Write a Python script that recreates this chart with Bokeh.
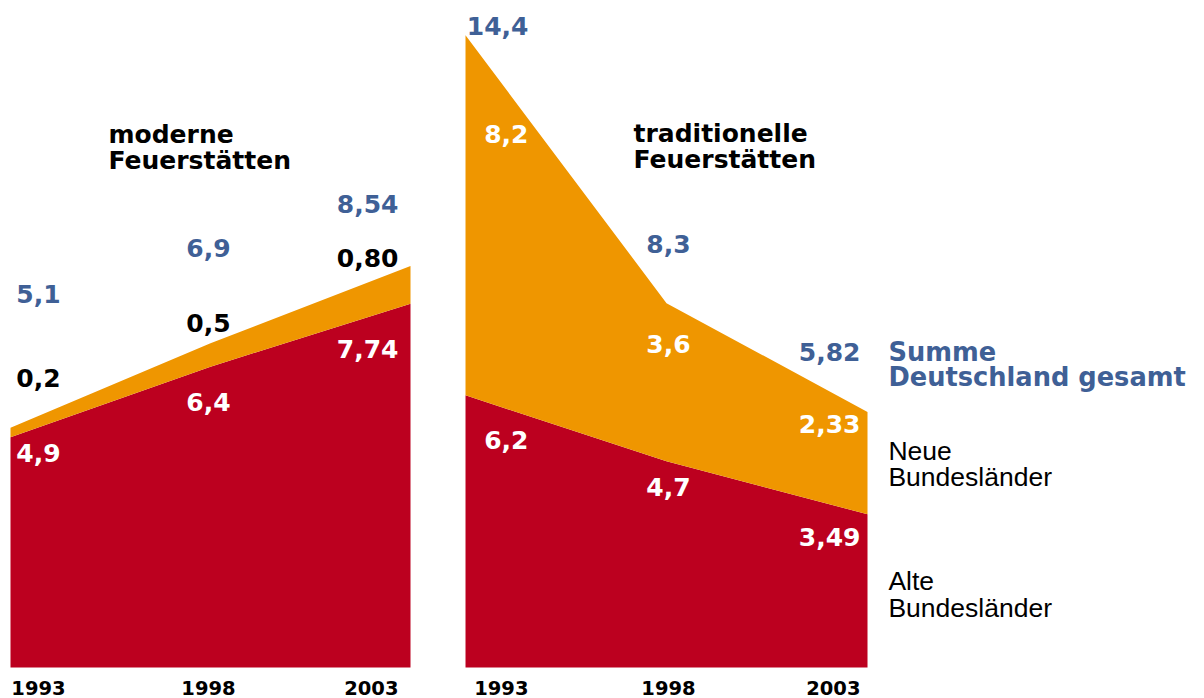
from bokeh.plotting import figure
from bokeh.layouts import row
from bokeh.models import Range1d, ColumnDataSource
from bokeh.core.properties import value
from bokeh.embed import file_html
from bokeh.resources import INLINE

# ---------------- data ----------------
years = [1993, 1998, 2003]
year_labels = ["1993", "1998", "2003"]

modern_alte = [4.9, 6.4, 7.74]      # Alte Bundesländer
modern_neue = [0.2, 0.5, 0.80]      # Neue Bundesländer
modern_total = [5.1, 6.9, 8.54]     # Summe Deutschland gesamt
modern_alte_lbl = ["4,9", "6,4", "7,74"]
modern_neue_lbl = ["0,2", "0,5", "0,80"]
modern_total_lbl = ["5,1", "6,9", "8,54"]

trad_alte = [6.2, 4.7, 3.49]
trad_neue = [8.2, 3.6, 2.33]
trad_total = [14.4, 8.3, 5.82]
trad_alte_lbl = ["6,2", "4,7", "3,49"]
trad_neue_lbl = ["8,2", "3,6", "2,33"]
trad_total_lbl = ["14,4", "8,3", "5,82"]

title_modern = ["moderne", "Feuerstätten"]
title_trad = ["traditionelle", "Feuerstätten"]
legend_sum = ["Summe", "Deutschland gesamt"]
legend_neue = ["Neue", "Bundesländer"]
legend_alte = ["Alte", "Bundesländer"]

# ---------------- style ----------------
RED = "#bc001f"
ORANGE = "#ef9600"
BLUE = "#3f6096"
BOLD = value("DejaVu Sans")
REG = value("Liberation Sans")
H = 698


def make_panel(width, xr, yr, alte, total, lbl_alte, lbl_neue, lbl_total,
               aligns, xoffs, off_alte, off_neue, off_total, neue_color):
    p = figure(width=width, height=H, x_range=Range1d(*xr), y_range=Range1d(*yr),
               output_backend="svg", toolbar_location=None,
               x_axis_type=None, y_axis_type=None,
               min_border=0, outline_line_color=None,
               background_fill_color="white", border_fill_color="white")
    p.grid.visible = False
    src = ColumnDataSource(dict(x=years, alte=alte, total=total, zero=[0] * 3))
    p.varea(x="x", y1="zero", y2="alte", source=src, fill_color=RED)
    p.varea(x="x", y1="alte", y2="total", source=src, fill_color=ORANGE)

    for i in range(3):
        common = dict(text_font=BOLD, text_font_style="bold", text_font_size="25px",
                      text_align=aligns[i], text_baseline="middle", x_offset=xoffs[i])
        p.text(x=[years[i]], y=[alte[i]], text=[lbl_alte[i]], text_color="white",
               y_offset=off_alte[i], **common)
        p.text(x=[years[i]], y=[total[i]], text=[lbl_neue[i]], text_color=neue_color,
               y_offset=off_neue[i], **common)
        p.text(x=[years[i]], y=[total[i]], text=[lbl_total[i]], text_color=BLUE,
               y_offset=off_total[i], **common)
        p.text(x=[years[i]], y=[0], text=[year_labels[i]], text_color="black",
               y_offset=27, text_font=BOLD, text_font_style="bold",
               text_font_size="19.5px", text_align=aligns[i], text_baseline="bottom",
               x_offset=xoffs[i])
    return p


# left panel: 40 px per year, 47 px per unit, baseline 31 px above bottom
left = make_panel(440, (1992.75, 2003.75), (-31 / 47, 667 / 47),
                  modern_alte, modern_total,
                  modern_alte_lbl, modern_neue_lbl, modern_total_lbl,
                  ["center", "center", "right"], [28, -2, -12],
                  [16, 35, 45], [-50, -20, -8], [-134, -95, -62], "black")

right = make_panel(764, (1992.378, 1992.378 + 764 / 40.2), (-31 / 43.9, 667 / 43.9),
                   trad_alte, trad_total,
                   trad_alte_lbl, trad_neue_lbl, trad_total_lbl,
                   ["right", "center", "right"], [63, 2, -7],
                   [45, 26, 23], [99, 41, 12], [-9, -59, -60], "white")

# titles
left.text(x=[1995.45, 1995.45], y=[(667 - 134) / 47, (667 - 160) / 47], text=title_modern,
          text_font=BOLD, text_font_style="bold", text_font_size="25px",
          text_color="black", text_align="left", text_baseline="alphabetic")
right.text(x=[1997.18, 1997.18], y=[(667 - 133) / 43.9, (667 - 159) / 43.9], text=title_trad,
           text_font=BOLD, text_font_style="bold", text_font_size="25px",
           text_color="black", text_align="left", text_baseline="alphabetic")

# legend texts
lx = 2003.52
right.text(x=[lx, lx], y=[(667 - 351) / 43.9, (667 - 376) / 43.9], text=legend_sum,
           text_font=BOLD, text_font_style="bold", text_font_size="25.7px",
           text_color=BLUE, text_align="left", text_baseline="alphabetic")
right.text(x=[lx, lx], y=[(667 - 450) / 43.9, (667 - 476) / 43.9], text=legend_neue,
           text_font=REG, text_font_size="26.5px",
           text_color="black", text_align="left", text_baseline="alphabetic")
right.text(x=[lx, lx], y=[(667 - 580) / 43.9, (667 - 607) / 43.9], text=legend_alte,
           text_font=REG, text_font_size="26.5px",
           text_color="black", text_align="left", text_baseline="alphabetic")

layout = row(left, right)
open("out.html", "w").write(file_html(layout, INLINE))
